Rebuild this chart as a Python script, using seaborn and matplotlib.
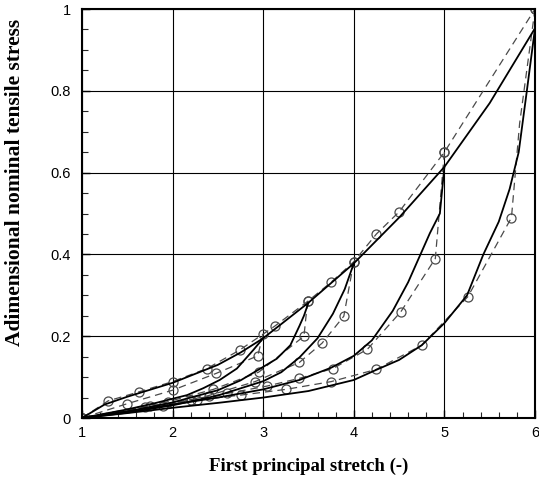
import matplotlib
matplotlib.use("Agg")
import matplotlib.pyplot as plt
from matplotlib.ticker import MultipleLocator, FuncFormatter
import seaborn as sns

# ---- model (solid) curves: primary loading and unloading from each max stretch ----
model_env_x = [1.0, 1.25, 1.5, 2.0, 2.5, 2.75, 3.0, 3.5, 4.0, 4.5, 5.0, 5.5, 6.0]
model_env_y = [0.0, 0.033, 0.052, 0.086, 0.130, 0.160, 0.195, 0.282, 0.378, 0.490, 0.614, 0.770, 0.953]

model_un3_x = [3.0, 2.89, 2.71, 2.52, 2.34, 2.16, 1.8, 1.5, 1.0]
model_un3_y = [0.195, 0.166, 0.121, 0.093, 0.073, 0.056, 0.036, 0.021, 0.0]

model_un35_x = [3.5, 3.45, 3.4, 3.3, 3.15, 3.0, 2.75, 2.5, 2.0, 1.5, 1.0]
model_un35_y = [0.282, 0.250, 0.225, 0.178, 0.145, 0.125, 0.092, 0.068, 0.038, 0.016, 0.0]

model_un4_x = [4.0, 3.9, 3.77, 3.6, 3.4, 3.2, 3.0, 2.5, 2.0, 1.5, 1.0]
model_un4_y = [0.378, 0.315, 0.255, 0.195, 0.148, 0.112, 0.090, 0.055, 0.031, 0.013, 0.0]

model_un5_x = [5.0, 4.95, 4.84, 4.72, 4.6, 4.43, 4.2, 4.0, 3.75, 3.4, 3.0, 2.5, 2.0, 1.5, 1.0]
model_un5_y = [0.614, 0.500, 0.452, 0.392, 0.332, 0.262, 0.190, 0.152, 0.123, 0.093, 0.070, 0.050, 0.033, 0.016, 0.0]

model_un6_x = [6.0, 5.91, 5.82, 5.72, 5.6, 5.43, 5.25, 5.0, 4.75, 4.5, 4.24, 4.0, 3.5, 3.0, 2.5, 2.0, 1.5, 1.0]
model_un6_y = [0.953, 0.800, 0.650, 0.560, 0.480, 0.400, 0.300, 0.232, 0.178, 0.142, 0.117, 0.093, 0.066, 0.050, 0.037, 0.025, 0.012, 0.0]

# ---- experimental (dashed, circles) curves ----
exp_env_x = [1.0, 1.29, 1.63, 2.0, 2.38, 2.74, 3.13, 3.49, 3.75, 4.0, 4.25, 4.5, 5.0, 6.0]
exp_env_y = [0.0, 0.042, 0.064, 0.089, 0.121, 0.166, 0.225, 0.285, 0.332, 0.382, 0.450, 0.504, 0.650, 1.0]

exp_un3_x = [3.0, 2.94, 2.48, 2.0, 1.5, 1.0]
exp_un3_y = [0.205, 0.152, 0.109, 0.068, 0.035, 0.0]

exp_un35_x = [3.49, 3.45, 2.95, 2.45, 1.95, 1.0]
exp_un35_y = [0.285, 0.200, 0.112, 0.070, 0.040, 0.0]

exp_un4_x = [4.0, 3.89, 3.65, 3.40, 2.91, 2.4, 1.9, 1.0]
exp_un4_y = [0.382, 0.249, 0.183, 0.136, 0.089, 0.055, 0.030, 0.0]

exp_un5_x = [5.0, 4.90, 4.52, 4.15, 3.77, 3.40, 3.04, 2.6, 2.2, 1.7, 1.0]
exp_un5_y = [0.650, 0.390, 0.260, 0.168, 0.121, 0.097, 0.078, 0.060, 0.045, 0.026, 0.0]

exp_un6_x = [6.0, 5.83, 5.74, 5.26, 4.75, 4.25, 3.75, 3.25, 2.75, 2.27, 1.75, 1.0]
exp_un6_y = [1.0, 0.720, 0.490, 0.297, 0.178, 0.119, 0.089, 0.070, 0.056, 0.044, 0.030, 0.0]

x_ticks = [1, 2, 3, 4, 5, 6]
y_ticks = [0, 0.2, 0.4, 0.6, 0.8, 1]

sns.set_theme(style="white")
plt.rcParams["font.family"] = ["Liberation Sans", "DejaVu Sans"]

fig = plt.figure(figsize=(5.39, 4.79), dpi=100)
ax = fig.add_axes([0.152, 0.1273, 0.8406, 0.8539])

ax.grid(True, which="major", color="black", linewidth=0.8)
ax.set_axisbelow(True)

exp_curves = [(exp_env_x, exp_env_y), (exp_un3_x, exp_un3_y), (exp_un35_x, exp_un35_y),
              (exp_un4_x, exp_un4_y), (exp_un5_x, exp_un5_y), (exp_un6_x, exp_un6_y)]
for cx, cy in exp_curves:
    # the bend point of the last unloading branch carries no marker
    marks = [i for i in range(len(cx)) if not (cx is exp_un6_x and i == 1)]
    sns.lineplot(x=cx, y=cy, ax=ax, sort=False, estimator=None, color="#4a4a4a",
                 linewidth=0.9, linestyle=(0, (6, 4)), marker="o", markersize=6.5,
                 markerfacecolor="none", markeredgecolor="#4a4a4a", markeredgewidth=0.9,
                 markevery=marks)

model_curves = [(model_env_x, model_env_y), (model_un3_x, model_un3_y), (model_un35_x, model_un35_y),
                (model_un4_x, model_un4_y), (model_un5_x, model_un5_y), (model_un6_x, model_un6_y)]
for cx, cy in model_curves:
    sns.lineplot(x=cx, y=cy, ax=ax, sort=False, estimator=None, color="black", linewidth=1.3)

ax.set_xlim(1, 6)
ax.set_ylim(0, 1)
ax.set_xticks(x_ticks)
ax.set_yticks(y_ticks)
ax.xaxis.set_minor_locator(MultipleLocator(0.2))
ax.yaxis.set_minor_locator(MultipleLocator(0.05))
ax.yaxis.set_major_formatter(FuncFormatter(lambda v, p: "0" if v == 0 else ("1" if v == 1 else f"{v:.1f}")))
ax.tick_params(axis="both", which="major", direction="in", length=6, width=1.0,
               labelsize=10.5, colors="black", bottom=True, left=True)
ax.tick_params(axis="both", which="minor", direction="in", length=4, width=0.8,
               bottom=True, left=True)
ax.tick_params(axis="y", which="major", pad=8)
ax.tick_params(axis="x", which="major", pad=6)

for s in ax.spines.values():
    s.set_color("black")
    s.set_linewidth(1.5)
    s.set_visible(True)

ax.set_xlabel("First principal stretch (-)", family="Liberation Serif", fontweight="bold",
              fontsize=13.5, color="black")
ax.set_ylabel("Adimensional nominal tensile stress", family="Liberation Serif", fontweight="bold",
              fontsize=15.5, color="black")
ax.xaxis.set_label_coords(0.5, -0.097)
ax.yaxis.set_label_coords(-0.125, 0.575)

fig.savefig("out.png", dpi=100)
